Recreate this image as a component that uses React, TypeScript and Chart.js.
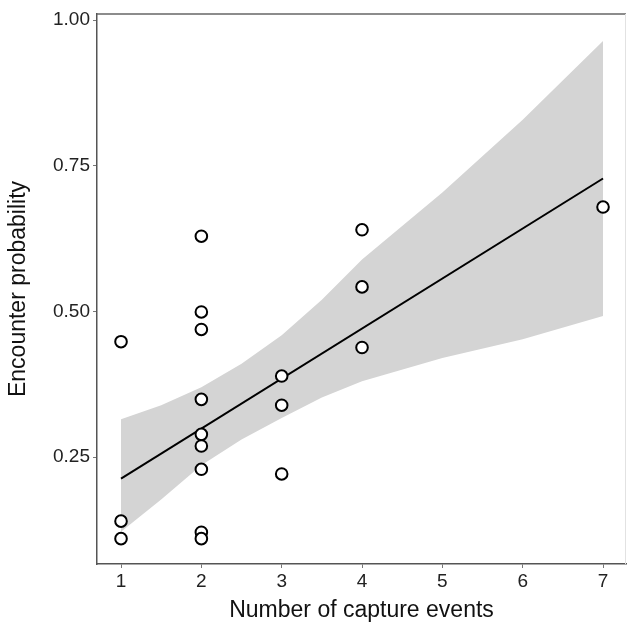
import { useEffect, useRef } from "react";
import { Chart, registerables } from "chart.js";

Chart.register(...registerables);

// Observed data
const captureEvents = [1, 1, 1, 2, 2, 2, 2, 2, 2, 2, 2, 2, 3, 3, 3, 4, 4, 4, 7];
const encounterProb = [
  0.448, 0.14, 0.11,
  0.629, 0.499, 0.469, 0.349, 0.289, 0.269, 0.229, 0.121, 0.11,
  0.389, 0.339, 0.221,
  0.64, 0.542, 0.438,
  0.679,
];

// Fitted line
const fitX = [1, 7];
const fitY = [0.213, 0.728];

// Confidence band
const bandX = [1, 1.5, 2, 2.5, 3, 3.5, 4, 5, 6, 7];
const bandUpper = [0.315, 0.339, 0.37, 0.41, 0.459, 0.52, 0.589, 0.704, 0.829, 0.964];
const bandLower = [0.122, 0.177, 0.236, 0.28, 0.317, 0.352, 0.38, 0.42, 0.452, 0.492];

// Axis ticks
const xTicks = [1, 2, 3, 4, 5, 6, 7];
const yTicks = [0.25, 0.5, 0.75, 1.0];

const FONT = "'Liberation Sans', Arial, sans-serif";

const frame = {
  id: "frame",
  afterDatasetsDraw(chart: any) {
    const { ctx, chartArea } = chart;
    ctx.save();
    ctx.lineWidth = 1.5;
    ctx.strokeStyle = "#666";
    ctx.beginPath();
    ctx.moveTo(chartArea.left, chartArea.top);
    ctx.lineTo(chartArea.right, chartArea.top);
    ctx.stroke();
    ctx.strokeStyle = "#e2e2e2";
    ctx.lineWidth = 1;
    ctx.beginPath();
    ctx.moveTo(chartArea.right - 0.5, chartArea.top);
    ctx.lineTo(chartArea.right - 0.5, chartArea.bottom);
    ctx.stroke();
    ctx.restore();
  },
};

export default function App() {
  const ref = useRef<HTMLCanvasElement | null>(null);

  useEffect(() => {
    if (!ref.current) return;
    const chart = new Chart(ref.current, {
      type: "scatter",
      data: {
        datasets: [
          {
            label: "points",
            data: captureEvents.map((x, i) => ({ x, y: encounterProb[i] })),
            pointRadius: 5.8,
            pointBorderWidth: 2,
            pointBorderColor: "#000",
            pointBackgroundColor: "#fff",
            order: 0,
          },
          {
            label: "fit",
            data: fitX.map((x, i) => ({ x, y: fitY[i] })),
            showLine: true,
            borderColor: "#000",
            borderWidth: 2,
            pointRadius: 0,
            order: 1,
          } as any,
          {
            label: "upper",
            data: bandX.map((x, i) => ({ x, y: bandUpper[i] })),
            showLine: true,
            borderWidth: 0,
            borderColor: "rgba(0,0,0,0)",
            backgroundColor: "#d4d4d4",
            pointRadius: 0,
            tension: 0,
            fill: "+1",
            order: 2,
          } as any,
          {
            label: "lower",
            data: bandX.map((x, i) => ({ x, y: bandLower[i] })),
            showLine: true,
            borderWidth: 0,
            borderColor: "rgba(0,0,0,0)",
            pointRadius: 0,
            tension: 0,
            fill: false,
            order: 3,
          } as any,
        ],
      },
      options: {
        responsive: false,
        animation: false,
        layout: { autoPadding: false, padding: { top: 14, right: 1, left: 0, bottom: 0 } },
        plugins: {
          legend: { display: false },
          tooltip: { enabled: false },
        },
        scales: {
          x: {
            type: "linear",
            min: 0.701,
            max: 7.286,
            afterBuildTicks: (s: any) => {
              s.ticks = xTicks.map((v) => ({ value: v }));
            },
            afterFit: (s: any) => {
              s.height = 61;
              s.paddingLeft = 0;
              s.paddingRight = 0;
            },
            ticks: {
              callback: (v: any) => String(v),
              font: { family: FONT, size: 19 },
              color: "#222",
              padding: 2,
              maxRotation: 0,
            },
            grid: {
              display: true,
              drawOnChartArea: false,
              drawTicks: true,
              tickLength: 4,
              color: "#777",
            },
            border: { display: true, color: "#555", width: 1.5 },
            title: {
              display: true,
              text: "Number of capture events",
              font: { family: FONT, size: 23 },
              color: "#111",
              padding: { top: 0, bottom: 1 },
            },
          },
          y: {
            type: "linear",
            min: 0.0665,
            max: 1.0103,
            afterBuildTicks: (s: any) => {
              s.ticks = yTicks.map((v) => ({ value: v }));
            },
            afterFit: (s: any) => {
              s.width = 97;
              s.paddingTop = 0;
              s.paddingBottom = 0;
            },
            ticks: {
              callback: (v: any) => Number(v).toFixed(2),
              font: { family: FONT, size: 19 },
              color: "#222",
              padding: 3,
            },
            grid: {
              display: true,
              drawOnChartArea: false,
              drawTicks: true,
              tickLength: 4,
              color: "#777",
            },
            border: { display: true, color: "#555", width: 1.5 },
            title: {
              display: true,
              text: "Encounter probability",
              font: { family: FONT, size: 23 },
              color: "#111",
              padding: { top: 5, bottom: 0 },
            },
          },
        },
      },
      plugins: [frame],
    });
    return () => chart.destroy();
  }, []);

  return (
    <div style={{ position: "fixed", left: 0, top: 0, width: 627, height: 625, background: "#fff" }}>
      <canvas ref={ref} width={627} height={625} style={{ display: "block" }} />
    </div>
  );
}
